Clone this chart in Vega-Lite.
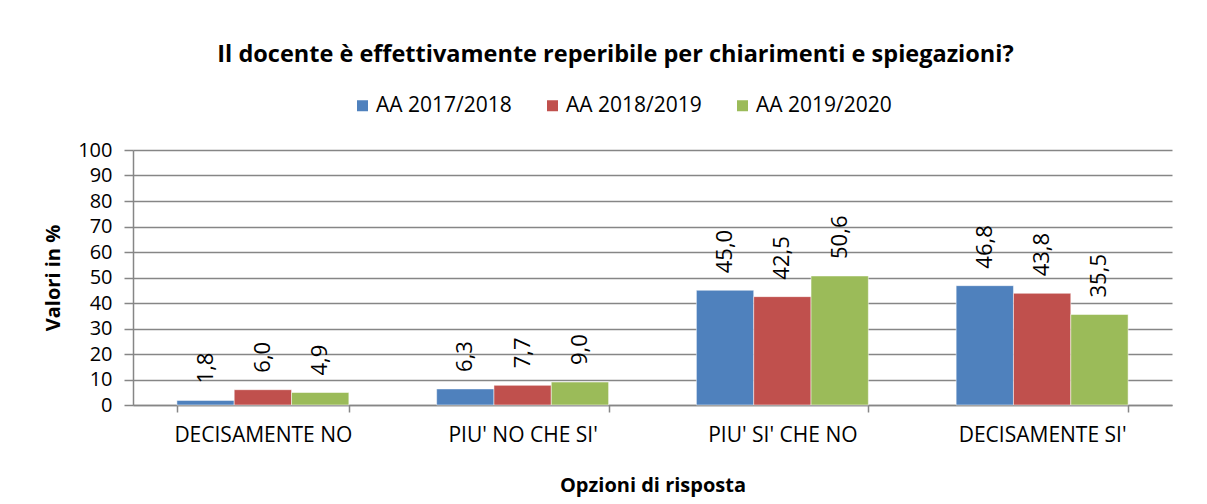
{
  "$schema": "https://vega.github.io/schema/vega-lite/v6.json",
  "width": 1039,
  "height": 255,
  "autosize": {"type": "none"},
  "padding": {"left": 133, "top": 150, "right": 35, "bottom": 99},
  "background": "white",
  "title": {
    "text": "Il docente è effettivamente reperibile per chiarimenti e spiegazioni?",
    "font": "Open Sans",
    "fontSize": 23.5,
    "fontWeight": "bold",
    "color": "#000000",
    "anchor": "middle",
    "frame": "group",
    "dx": -37,
    "offset": 29
  },
  "config": {
    "locale": {"number": {"decimal": ",", "thousands": ".", "grouping": [3], "currency": ["€", ""]}},
    "view": {"stroke": null},
    "font": "Open Sans"
  },
  "data": {
    "values": [
      {"cat": "DECISAMENTE NO", "anno": "AA 2017/2018", "v": 1.8},
      {"cat": "DECISAMENTE NO", "anno": "AA 2018/2019", "v": 6.0},
      {"cat": "DECISAMENTE NO", "anno": "AA 2019/2020", "v": 4.9},
      {"cat": "PIU' NO CHE SI'", "anno": "AA 2017/2018", "v": 6.3},
      {"cat": "PIU' NO CHE SI'", "anno": "AA 2018/2019", "v": 7.7},
      {"cat": "PIU' NO CHE SI'", "anno": "AA 2019/2020", "v": 9.0},
      {"cat": "PIU' SI' CHE NO", "anno": "AA 2017/2018", "v": 45.0},
      {"cat": "PIU' SI' CHE NO", "anno": "AA 2018/2019", "v": 42.5},
      {"cat": "PIU' SI' CHE NO", "anno": "AA 2019/2020", "v": 50.6},
      {"cat": "DECISAMENTE SI'", "anno": "AA 2017/2018", "v": 46.8},
      {"cat": "DECISAMENTE SI'", "anno": "AA 2018/2019", "v": 43.8},
      {"cat": "DECISAMENTE SI'", "anno": "AA 2019/2020", "v": 35.5}
    ]
  },
  "encoding": {
    "x": {
      "field": "cat",
      "type": "nominal",
      "sort": null,
      "scale": {"paddingInner": 0.338, "paddingOuter": 0.169},
      "axis": {
        "title": "Opzioni di risposta",
        "titleFont": "Open Sans",
        "titleFontSize": 20,
        "titleFontWeight": "bold",
        "titleColor": "#000000",
        "titlePadding": 30,
        "labelAngle": 0,
        "labelFont": "Open Sans",
        "labelFontSize": 21,
        "labelColor": "#000000",
        "labelPadding": 12,
        "tickBand": "extent",
        "tickColor": "#868686",
        "tickSize": 7,
        "tickWidth": 1.5,
        "domainColor": "#868686",
        "domainWidth": 1.5,
        "grid": false
      }
    },
    "xOffset": {"field": "anno", "type": "nominal", "scale": {"paddingInner": 0, "paddingOuter": 0}},
    "y": {
      "field": "v",
      "type": "quantitative",
      "scale": {"domain": [0, 100], "nice": false},
      "axis": {
        "title": "Valori in %",
        "titleFont": "Open Sans",
        "titleFontSize": 20,
        "titleFontWeight": "bold",
        "titleColor": "#000000",
        "titlePadding": 14,
        "values": [0, 10, 20, 30, 40, 50, 60, 70, 80, 90, 100],
        "labelFont": "Open Sans",
        "labelFontSize": 20,
        "labelColor": "#000000",
        "labelPadding": 12,
        "tickColor": "#868686",
        "tickSize": 9,
        "tickWidth": 1.5,
        "domainColor": "#868686",
        "domainWidth": 1.5,
        "gridColor": "#868686",
        "gridWidth": 1.5
      }
    }
  },
  "layer": [
    {
      "mark": {"type": "bar", "stroke": "white", "strokeWidth": 0.5},
      "encoding": {
        "color": {
          "field": "anno",
          "type": "nominal",
          "scale": {"range": ["#4F81BD", "#C0504D", "#9BBB59"]},
          "legend": {
            "title": null,
            "orient": "none",
            "direction": "horizontal",
            "legendX": 219,
            "legendY": -55,
            "symbolType": "square",
            "symbolSize": 121,
            "symbolStrokeWidth": 0,
            "symbolOpacity": 1,
            "labelFont": "Open Sans",
            "labelFontSize": 21,
            "labelColor": "#000000",
            "labelOffset": 3,
            "columnPadding": 30
          }
        }
      }
    },
    {
      "mark": {"type": "text", "angle": 270, "align": "left", "baseline": "middle", "dx": 17, "font": "Open Sans", "fontSize": 22, "color": "#000000"},
      "encoding": {
        "text": {"field": "v", "type": "quantitative", "format": ".1f"}
      }
    }
  ]
}
